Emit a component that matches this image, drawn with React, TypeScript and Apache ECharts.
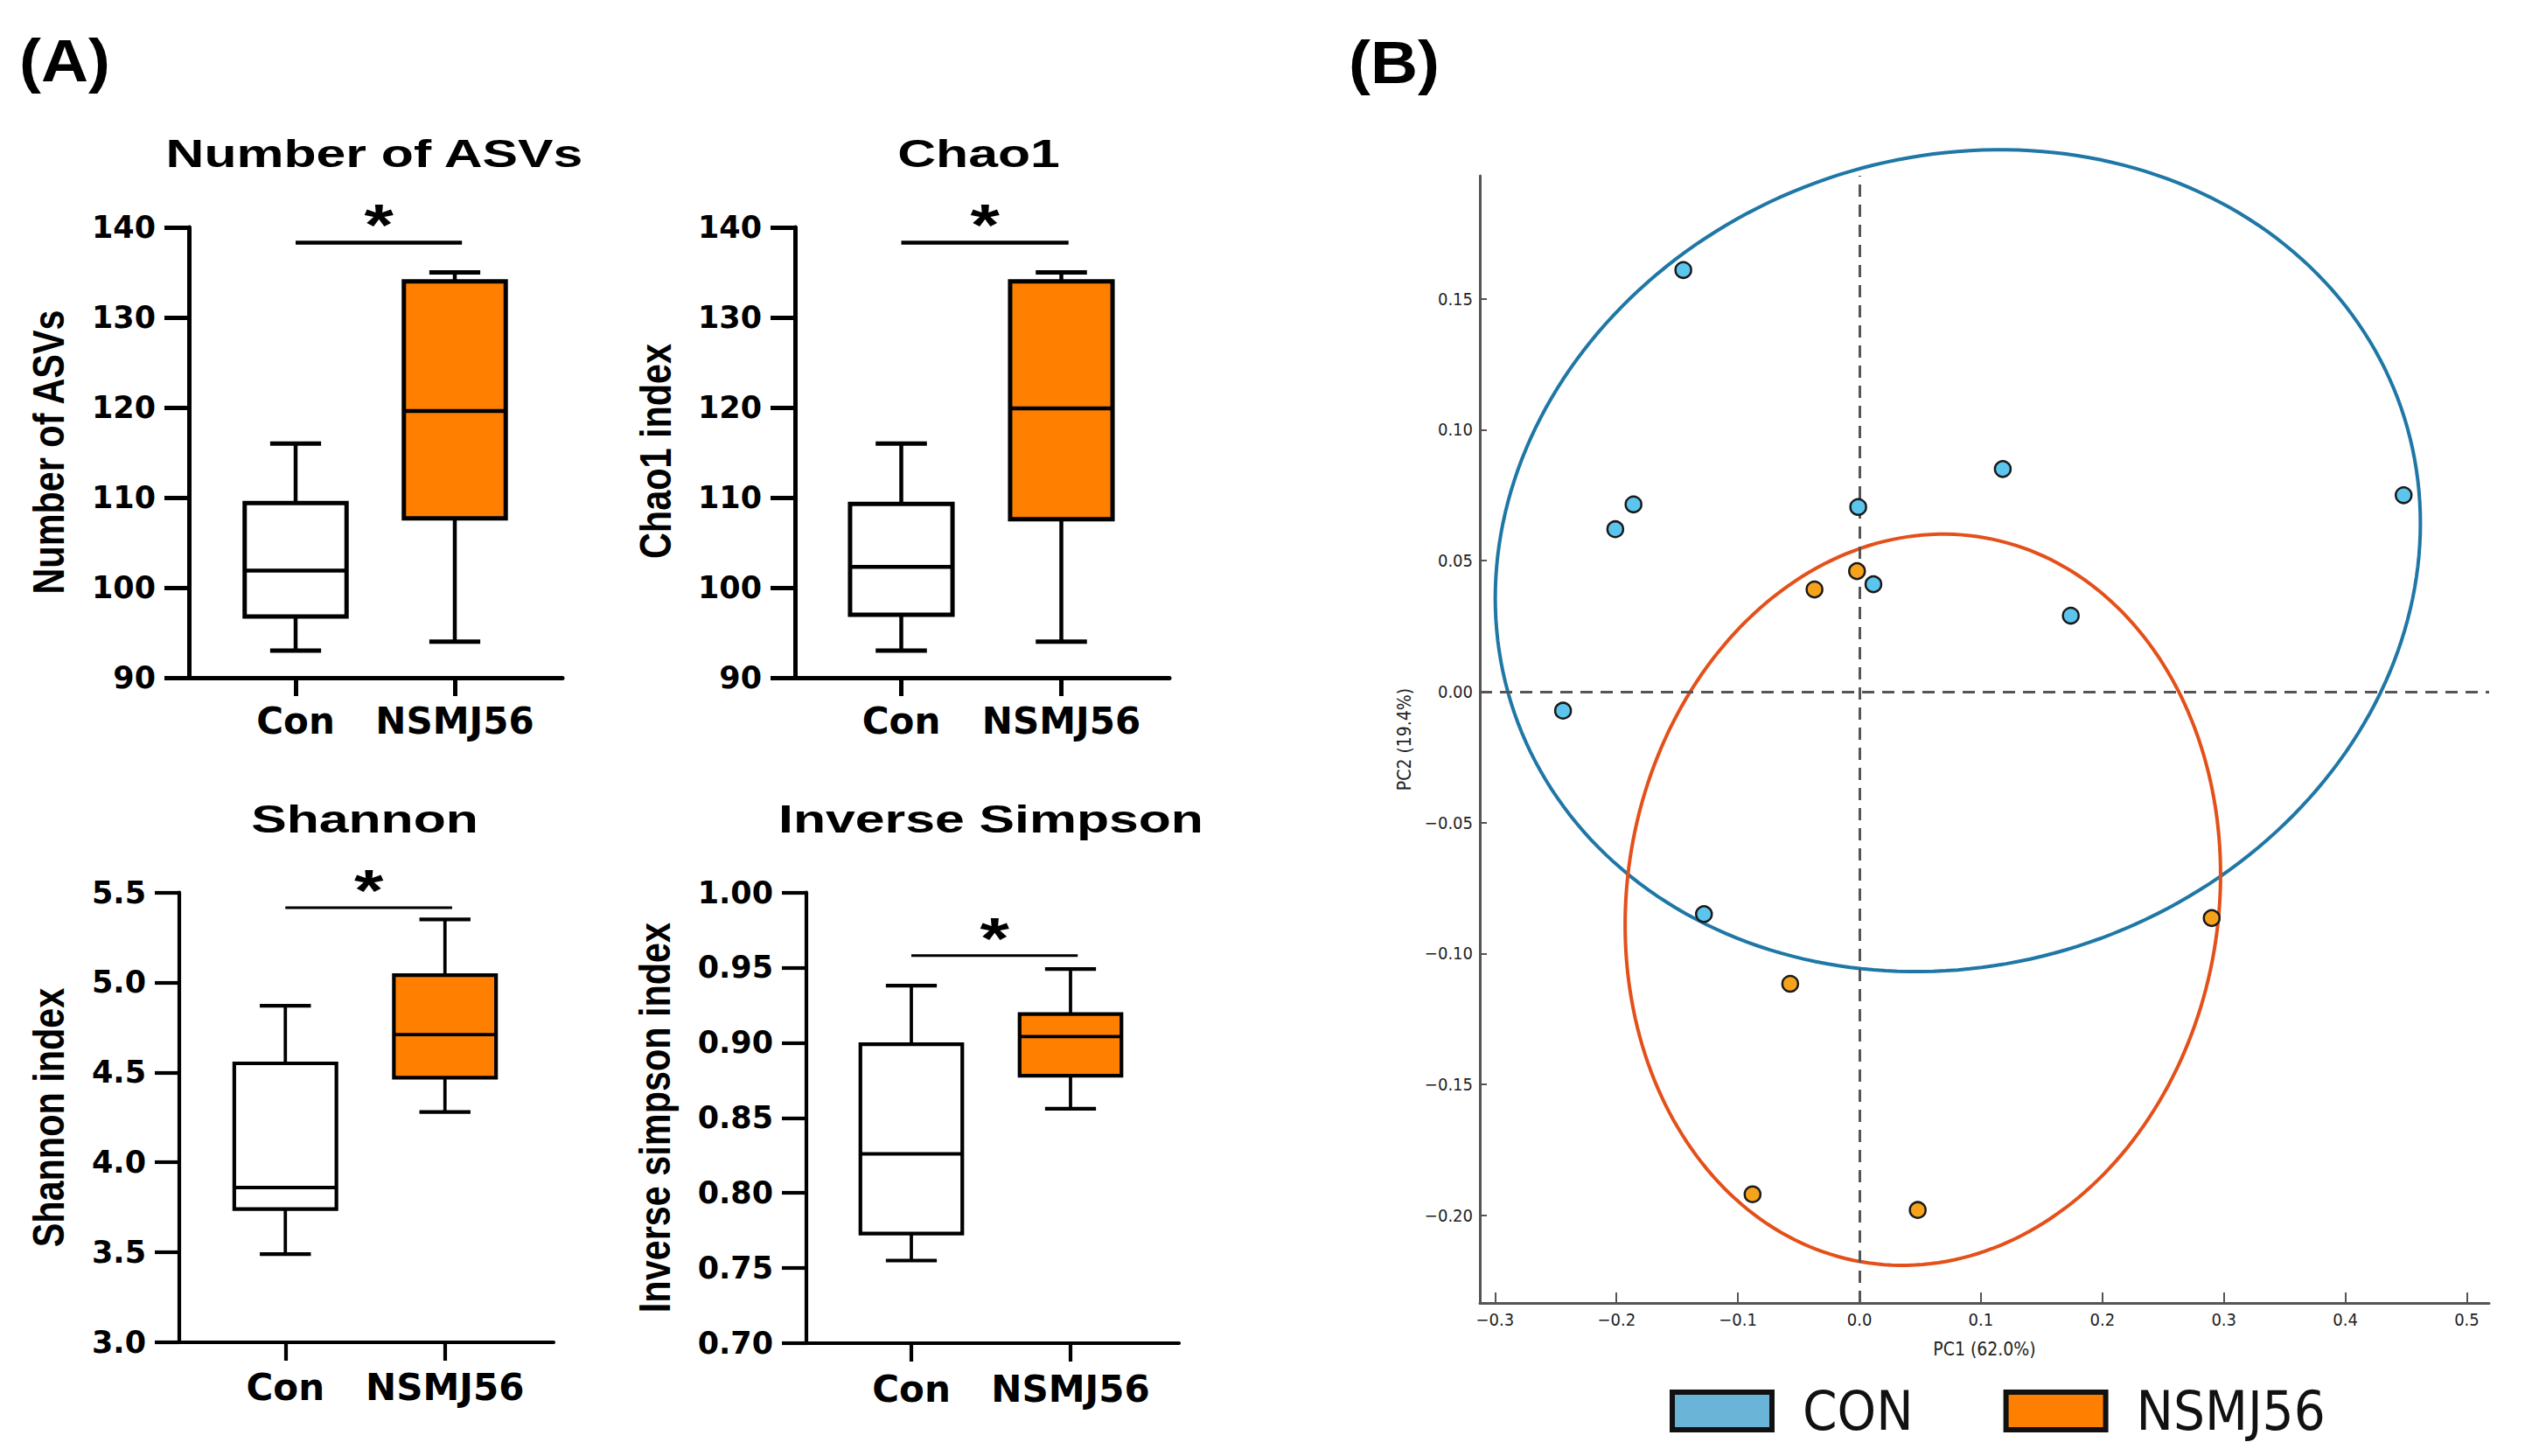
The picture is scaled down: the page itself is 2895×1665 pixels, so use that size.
import React, { useEffect, useRef } from 'react';
import * as echarts from 'echarts';

// ---------------- data ----------------
const groups = ['Con', 'NSMJ56'];
// box statistics: [min, Q1, median, Q3, max]
const asvCon = [93, 96.8, 101.9, 109.4, 116];
const asvNsmj = [94, 107.7, 119.6, 134, 135];
const chaoCon = [93, 97, 102.3, 109.3, 116];
const chaoNsmj = [94, 107.6, 119.9, 134, 135];
const shannonCon = [3.49, 3.74, 3.86, 4.55, 4.87];
const shannonNsmj = [4.28, 4.47, 4.71, 5.04, 5.35];
const invSimpCon = [0.755, 0.773, 0.826, 0.899, 0.938];
const invSimpNsmj = [0.856, 0.878, 0.904, 0.919, 0.949];
const sigLevels = [138.3, 138.3, 5.415, 0.958];

const panelTitles = ['Number of ASVs', 'Chao1', 'Shannon', 'Inverse Simpson'];
const yNames = ['Number of ASVs', 'Chao1 index', 'Shannon index', 'Inverse simpson index'];
const yMins = [90, 90, 3.0, 0.7];
const yMaxs = [140, 140, 5.5, 1.0];
const yIntervals = [10, 10, 0.5, 0.05];
const yDecimals = [0, 0, 1, 2];

// PCoA scores [PC1, PC2]
const pcoaCon = [
  [-0.145, 0.161], [-0.201, 0.062], [-0.186, 0.0715], [-0.001, 0.0705], [0.118, 0.085],
  [0.448, 0.075], [0.0115, 0.041], [0.174, 0.029], [-0.244, -0.0073], [-0.128, -0.085],
];
const pcoaNsmj = [
  [-0.037, 0.039], [-0.002, 0.046], [0.29, -0.0865], [-0.057, -0.1116], [-0.088, -0.192], [0.048, -0.198],
];
// ellipse: [centerX, centerY, ax, ay, by]  (x = cx + ax cos t ; y = cy + ay cos t + by sin t)
const ellipseCon = [0.081, 0.05, 0.3808, 0.0143, 0.1563];
const ellipseNsmj = [0.0522, -0.0795, 0.2451, 0.0096, 0.1393];
const pc1Ticks = [-0.3, -0.2, -0.1, 0, 0.1, 0.2, 0.3, 0.4, 0.5];
const pc2Ticks = [-0.2, -0.15, -0.1, -0.05, 0, 0.05, 0.1, 0.15];
const legendNames = ['CON', 'NSMJ56'];

// ---------------- styles / layout ----------------
const BOLD = "'DejaVu Sans', sans-serif";
const ARIAL = "'Liberation Sans', Arial, sans-serif";
const COND = "'DejaVu Sans Condensed', 'DejaVu Sans', sans-serif";
const boxFills = ['#ffffff', '#ff8000'];

const frames = [
  { left: 216, top: 260, width: 427, height: 515, innerLeft: 247, innerWidth: 364, labelMargin: 28, lw: 5, sigW: 4.5, tx: 428, ty: 176, nx: 56, ny: 517 },
  { left: 909, top: 260, width: 428, height: 515, innerLeft: 939, innerWidth: 366, labelMargin: 28, lw: 5, sigW: 4.5, tx: 1119, ty: 176, nx: 750, ny: 516 },
  { left: 205, top: 1020.5, width: 428, height: 514.5, innerLeft: 235, innerWidth: 365, labelMargin: 30, lw: 4.2, sigW: 3, tx: 417, ty: 937, nx: 56, ny: 1278 },
  { left: 922, top: 1020.5, width: 426, height: 515.5, innerLeft: 951, innerWidth: 364, labelMargin: 31, lw: 4.2, sigW: 3, tx: 1133, ty: 937, nx: 749, ny: 1278 },
];

function fmtSigned(v: number, d: number) {
  const s = Math.abs(v).toFixed(d);
  if (Math.abs(v) < 1e-9) return s;
  return v < 0 ? '\u2212' + s : s;
}

function buildOption() {
  const boxStats = [
    [asvCon, asvNsmj],
    [chaoCon, chaoNsmj],
    [shannonCon, shannonNsmj],
    [invSimpCon, invSimpNsmj],
  ];
  const grid: any[] = [];
  const xAxis: any[] = [];
  const yAxis: any[] = [];
  const series: any[] = [];
  const graphicEls: any[] = [];

  frames.forEach((L, p) => {
    grid.push({ left: L.left, top: L.top, width: L.width, height: L.height });
    grid.push({ left: L.innerLeft, top: L.top, width: L.innerWidth, height: L.height });
    xAxis.push({
      type: 'value', gridIndex: 2 * p, min: 0, max: 1,
      axisLine: { show: true, onZero: false, lineStyle: { color: '#000', width: L.lw } },
      axisTick: { show: false }, axisLabel: { show: false }, splitLine: { show: false },
    });
    xAxis.push({
      type: 'category', gridIndex: 2 * p + 1, data: groups, boundaryGap: true,
      axisLine: { show: false, onZero: false },
      axisTick: { show: true, alignWithLabel: true, length: 21, lineStyle: { color: '#000', width: L.lw } },
      axisLabel: { interval: 0, margin: L.labelMargin, fontFamily: BOLD, fontWeight: 'bold', fontSize: 42, color: '#000' },
      splitLine: { show: false },
    });
    const dec = yDecimals[p];
    yAxis.push({
      type: 'value', gridIndex: 2 * p, min: yMins[p], max: yMaxs[p], interval: yIntervals[p],
      axisLine: { show: true, onZero: false, lineStyle: { color: '#000', width: L.lw } },
      axisTick: { show: true, length: 28, lineStyle: { color: '#000', width: L.lw } },
      axisLabel: {
        margin: 38, formatter: (v: number) => v.toFixed(dec),
        fontFamily: BOLD, fontWeight: 'bold', fontSize: 35, color: '#000',
      },
      splitLine: { show: false },
    });
    yAxis.push({ type: 'value', gridIndex: 2 * p + 1, min: yMins[p], max: yMaxs[p], show: false });

    const lw = L.lw;
    series.push({
      type: 'custom', xAxisIndex: 2 * p + 1, yAxisIndex: 2 * p + 1, z: 3,
      encode: { x: 0, y: [1, 2, 3, 4, 5] },
      data: boxStats[p].map((s, i) => [i, ...s]),
      renderItem: (params: any, api: any) => {
        const cat = api.value(0);
        const vmin = api.value(1), q1 = api.value(2), med = api.value(3), q3 = api.value(4), vmax = api.value(5);
        const band = api.size([1, 0])[0];
        const cx = api.coord([cat, med])[0];
        const y = (v: number) => api.coord([cat, v])[1];
        const hb = band * 0.32;
        const hc = band * 0.16;
        const stroke = '#000';
        return {
          type: 'group',
          children: [
            { type: 'line', shape: { x1: cx, y1: y(q3), x2: cx, y2: y(vmax) }, style: { stroke, lineWidth: lw * 0.9 } },
            { type: 'line', shape: { x1: cx, y1: y(q1), x2: cx, y2: y(vmin) }, style: { stroke, lineWidth: lw * 0.9 } },
            { type: 'line', shape: { x1: cx - hc, y1: y(vmax), x2: cx + hc, y2: y(vmax) }, style: { stroke, lineWidth: lw } },
            { type: 'line', shape: { x1: cx - hc, y1: y(vmin), x2: cx + hc, y2: y(vmin) }, style: { stroke, lineWidth: lw } },
            {
              type: 'rect', shape: { x: cx - hb, y: y(q3), width: 2 * hb, height: y(q1) - y(q3) },
              style: { fill: boxFills[params.dataIndex], stroke, lineWidth: lw },
            },
            { type: 'line', shape: { x1: cx - hb, y1: y(med), x2: cx + hb, y2: y(med) }, style: { stroke, lineWidth: lw * 0.9 } },
          ],
        };
      },
    });
    const sw = L.sigW;
    series.push({
      type: 'custom', xAxisIndex: 2 * p + 1, yAxisIndex: 2 * p + 1, z: 3,
      encode: { x: 0, y: 2 },
      data: [[0, 1, sigLevels[p]]],
      renderItem: (params: any, api: any) => {
        const lv = api.value(2);
        const yy = api.coord([0, lv])[1];
        const x0 = api.coord([api.value(0), lv])[0];
        const x1 = api.coord([api.value(1), lv])[0] + api.size([1, 0])[0] * 0.045;
        return {
          type: 'group',
          children: [
            { type: 'line', shape: { x1: x0, y1: yy, x2: x1, y2: yy }, style: { stroke: '#000', lineWidth: sw } },
            {
              type: 'text', x: (x0 + x1) / 2, y: yy - 20, scaleX: 1.3,
              style: { text: '*', fontSize: 66, fontWeight: 'bold', fontFamily: ARIAL, fill: '#000', align: 'center', verticalAlign: 'middle' },
            },
          ],
        };
      },
    });
    graphicEls.push({
      type: 'text', x: L.tx, y: L.ty, scaleX: 1.38,
      style: { text: panelTitles[p], fontSize: 44, fontWeight: 'bold', fontFamily: ARIAL, fill: '#000', align: 'center', verticalAlign: 'middle' },
    });
    // rotated, condensed y-axis title
    graphicEls.push({
      type: 'text', x: L.nx, y: L.ny, rotation: Math.PI / 2, scaleX: 0.828,
      style: { text: yNames[p], fontSize: 50, fontWeight: 'bold', fontFamily: ARIAL, fill: '#000', align: 'center', verticalAlign: 'middle' },
    });
  });

  // ---------------- PCoA ----------------
  const gi = 8;
  grid.push({ left: 1692, top: 201, width: 1154, height: 1289 });
  const axCol = '#555';
  xAxis.push({
    type: 'value', gridIndex: gi, min: -0.3125, max: 0.5184, splitNumber: 8,
    axisLine: { show: true, onZero: false, lineStyle: { color: axCol, width: 3 } },
    axisTick: { show: true, inside: true, length: 12, customValues: pc1Ticks, lineStyle: { color: axCol, width: 2 } },
    axisLabel: {
      customValues: pc1Ticks, showMinLabel: true, showMaxLabel: true, margin: 9,
      formatter: (v: number) => (Math.abs(v * 10 - Math.round(v * 10)) < 1e-6 ? fmtSigned(v, 1) : ''),
      fontFamily: COND, fontSize: 20, color: '#222',
    },
    splitLine: { show: false },
    name: 'PC1 (62.0%)', nameLocation: 'middle', nameGap: 42,
    nameTextStyle: { fontFamily: COND, fontSize: 21, color: '#222' },
  });
  yAxis.push({
    type: 'value', gridIndex: gi, min: -0.2335, max: 0.197, splitNumber: 9,
    axisLine: { show: true, onZero: false, lineStyle: { color: axCol, width: 3 } },
    axisTick: { show: true, inside: true, length: 8, customValues: pc2Ticks, lineStyle: { color: axCol, width: 2 } },
    axisLabel: {
      customValues: pc2Ticks, showMinLabel: true, showMaxLabel: true, margin: 8,
      formatter: (v: number) => (Math.abs(v * 20 - Math.round(v * 20)) < 1e-6 ? fmtSigned(v, 2) : ''),
      fontFamily: COND, fontSize: 20, color: '#222',
    },
    splitLine: { show: false },
    name: 'PC2 (19.4%)', nameLocation: 'middle', nameRotate: 90, nameGap: 76,
    nameTextStyle: { fontFamily: COND, fontSize: 21, color: '#222' },
  });

  const ellipseRender = (color: string) => (params: any, api: any) => {
    const cx = api.value(0), cy = api.value(1), ax = api.value(2), ay = api.value(3), by = api.value(4);
    const pts: number[][] = [];
    const n = 240;
    for (let i = 0; i <= n; i++) {
      const t = (i / n) * Math.PI * 2;
      pts.push(api.coord([cx + ax * Math.cos(t), cy + ay * Math.cos(t) + by * Math.sin(t)]));
    }
    return { type: 'polyline', shape: { points: pts }, style: { stroke: color, lineWidth: 4, fill: 'none' } };
  };
  series.push({
    type: 'custom', xAxisIndex: gi, yAxisIndex: gi, z: 2, clip: false, silent: true,
    encode: { x: 0, y: 1 }, data: [ellipseCon], renderItem: ellipseRender('#1f77a6'),
  });
  series.push({
    type: 'custom', xAxisIndex: gi, yAxisIndex: gi, z: 2, clip: false, silent: true,
    encode: { x: 0, y: 1 }, data: [ellipseNsmj], renderItem: ellipseRender('#e4501a'),
  });
  series.push({
    type: 'scatter', name: legendNames[0], xAxisIndex: gi, yAxisIndex: gi, z: 5,
    data: pcoaCon, symbol: 'circle', symbolSize: 18,
    itemStyle: { color: '#5cc5ee', borderColor: '#1a1a1a', borderWidth: 2.5, opacity: 1 },
    markLine: {
      silent: true, symbol: ['none', 'none'], label: { show: false }, animation: false,
      lineStyle: { type: [14, 9], color: '#555', width: 3 },
      data: [{ xAxis: 0 }, { yAxis: 0 }],
    },
  });
  series.push({
    type: 'scatter', name: legendNames[1], xAxisIndex: gi, yAxisIndex: gi, z: 5,
    data: pcoaNsmj, symbol: 'circle', symbolSize: 18,
    itemStyle: { color: '#f7a21b', borderColor: '#1a1a1a', borderWidth: 2.5, opacity: 1 },
  });

  graphicEls.push({
    type: 'text', x: 74, y: 69, scaleX: 1.1,
    style: { text: '(A)', fontSize: 68, fontWeight: 'bold', fontFamily: ARIAL, fill: '#000', align: 'center', verticalAlign: 'middle' },
  });
  graphicEls.push({
    type: 'text', x: 1594, y: 71, scaleX: 1.1,
    style: { text: '(B)', fontSize: 68, fontWeight: 'bold', fontFamily: ARIAL, fill: '#000', align: 'center', verticalAlign: 'middle' },
  });

  return {
    animation: false,
    backgroundColor: '#ffffff',
    grid, xAxis, yAxis, series,
    legend: {
      left: 1904, top: 1577, orient: 'horizontal', icon: 'rect',
      itemWidth: 114, itemHeight: 43, itemGap: 103, selectedMode: false,
      textStyle: { fontFamily: COND, fontSize: 63, color: '#111', padding: [0, 0, 0, 30] },
      data: [
        { name: legendNames[0], itemStyle: { color: '#6ab4d8', borderColor: '#111', borderWidth: 6 } },
        { name: legendNames[1], itemStyle: { color: '#ff8000', borderColor: '#111', borderWidth: 6 } },
      ],
    },
    graphic: { elements: graphicEls },
  };
}

export default function App() {
  const ref = useRef<HTMLDivElement>(null);
  useEffect(() => {
    document.body.style.margin = '0';
    const chart = echarts.init(ref.current as HTMLDivElement, null, { renderer: 'svg' });
    chart.setOption(buildOption() as any);
    return () => {
      chart.dispose();
    };
  }, []);
  return (
    <div
      ref={ref}
      style={{ position: 'fixed', left: 0, top: 0, width: 2895, height: 1665, background: '#ffffff' }}
    />
  );
}
